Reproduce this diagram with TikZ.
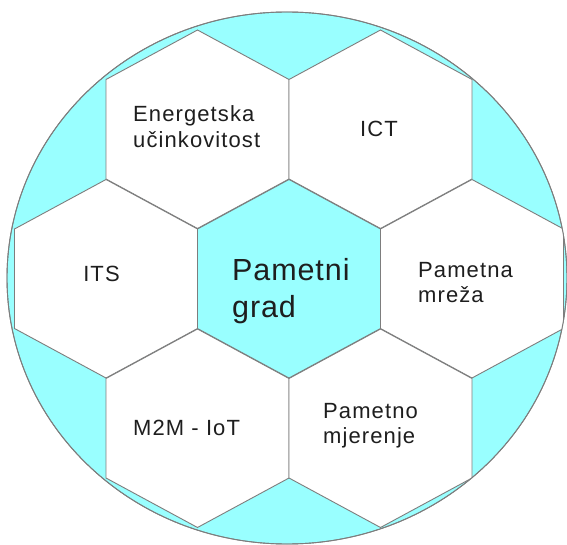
\documentclass[tikz,border=0pt]{standalone}
\usepackage{fontspec}
\setmainfont{Liberation Sans}
\newfontfamily\smallfont[LetterSpace=5]{Liberation Sans}
\newfontfamily\bigfont[LetterSpace=3]{Liberation Sans}
\definecolor{ballcyan}{RGB}{153,255,255}
\definecolor{seamgray}{RGB}{125,125,125}
\definecolor{inkgray}{RGB}{30,30,30}
\tikzset{
  seam/.style={draw=seamgray, line width=0.9pt, line join=miter},
  lbl/.style={inner sep=0pt, text=inkgray, align=left, font=\smallfont\fontsize{22}{25.5}\selectfont},
  biglbl/.style={inner sep=0pt, text=inkgray, align=left, font=\bigfont\fontsize{30.5}{36.7}\selectfont}
}
\newcommand{\hexcell}[3]{%
  \filldraw[seam, fill=#1] (#2,#3) ++(0,-99.5) -- ++(91.5,49.5) -- ++(0,99.5)
    -- ++(-91.5,49.5) -- ++(-91.5,-49.5) -- ++(0,-99.5) -- cycle;}
\begin{document}
\begin{tikzpicture}[x=1pt, y=-1pt]
  \fill[white] (0,0) rectangle (567,545);
  \useasboundingbox (0,0) rectangle (567,545);
  \filldraw[seam, fill=ballcyan] (287,278) ellipse [x radius=280, y radius=266];
  \begin{scope}
    \clip (287,278) ellipse [x radius=280, y radius=266];
    \foreach \cx/\cy in {197.5/129.5, 380.5/129.5, 106/279, 472/279, 197.5/428.5, 380.5/428.5}
      {\hexcell{white}{\cx}{\cy}}
    \hexcell{ballcyan}{289}{279}
  \end{scope}
  \draw[seam] (287,278) ellipse [x radius=280, y radius=266];

  \node (grad) at (232,258.5) [biglbl, anchor=north west] {Pametni\\grad};
  \node (ene) at (133,105.5) [lbl, anchor=north west] {Energetska\\učinkovitost};
  \node (ict) at (379,137) [lbl, anchor=base] {ICT};
  \node (its) at (101.5,281.7) [lbl, anchor=base] {ITS};
  \node (mre) at (418,261.7) [lbl, anchor=north west] {Pametna\\mreža};
  \node (m2m) at (133,435) [lbl, anchor=base west] {M2M - IoT};
  \node (mje) at (323,403) [lbl, anchor=north west] {Pametno\\mjerenje};
\end{tikzpicture}
\end{document}
